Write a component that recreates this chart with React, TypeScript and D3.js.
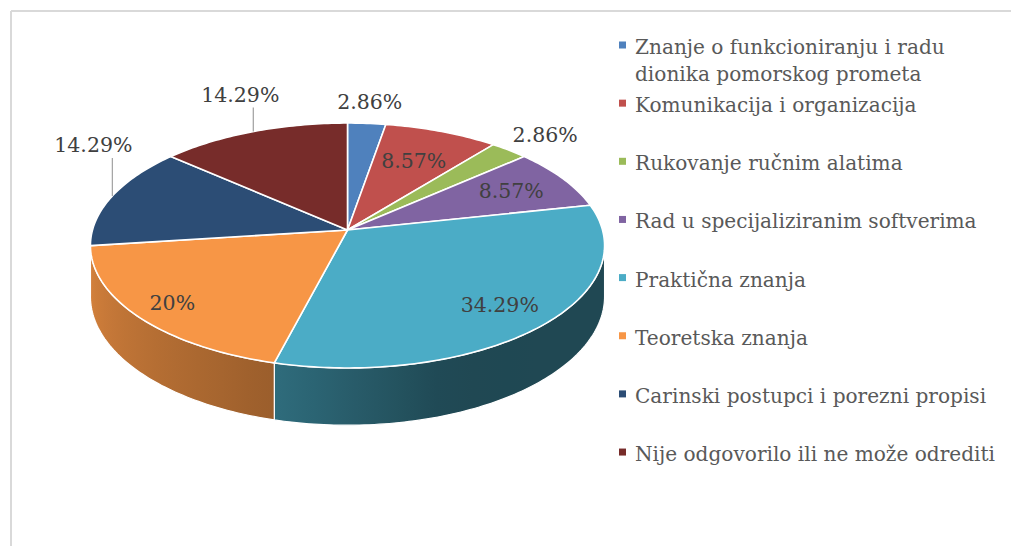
import React from "react";
import * as d3 from "d3";

const categories = [
  "Znanje o funkcioniranju i radu\ndionika pomorskog prometa",
  "Komunikacija i organizacija",
  "Rukovanje ručnim alatima",
  "Rad u specijaliziranim softverima",
  "Praktična znanja",
  "Teoretska znanja",
  "Carinski postupci i porezni propisi",
  "Nije odgovorilo ili ne može odrediti",
];
const values = [2.86, 8.57, 2.86, 8.57, 34.29, 20, 14.29, 14.29];
const colors = ["#4f81bd", "#c0504d", "#9bbb59", "#8064a2", "#4bacc6", "#f79646", "#2c4d75", "#772c2a"];

// label placement: inside radius, or an offset from the rim for outside labels
const labelPos = [
  { out: true, dx: 3, dy: -21 },
  { r: 0.68 },
  { out: true, dx: 36, dy: -15 },
  { r: 0.75 },
  { r: 0.8 },
  { r: 0.85 },
  { out: true, dx: -19, dy: -51, leader: 38 },
  { out: true, dx: -13, dy: -37, leader: 24 },
];

const W = 1011;
const H = 546;
const CX = 347.5;
const CY = 230;
const RX = 255;
const RY = 120.5;
const K = 0.1266; // perspective
const DEPTH = 50;
const FONT = "'DejaVu Serif', serif";

const project = (t: number, r = 1, drop = 0): [number, number] => {
  const s = 1 / (1 + K * r * Math.cos(t));
  return [CX + RX * r * Math.sin(t) * s, CY - RY * r * Math.cos(t) * s + drop * s];
};

const arcPoints = (a0: number, a1: number, r = 1, drop = 0) => {
  const n = Math.max(2, Math.ceil(((a1 - a0) * 180) / Math.PI));
  return d3.range(n + 1).map((i) => project(a0 + ((a1 - a0) * i) / n, r, drop));
};

const shade = d3.scaleLinear().domain([97, 160, 195, 230, 263]).range([0.42, 0.42, 0.63, 0.76, 0.87]).clamp(true);

const tR = Math.acos(-K);
const tL = 2 * Math.PI - tR;

export default function App() {
  const arcs = d3.pie<number>().sort(null).value((d) => d)(values);
  const line = d3.line();

  const sides = arcs
    .map((a, i) => {
      const t0 = Math.max(a.startAngle, tR);
      const t1 = Math.min(a.endAngle, tL);
      if (t1 <= t0) return null;
      const top = arcPoints(t0, t1);
      const bottom = arcPoints(t0, t1, 1, DEPTH).reverse();
      const xs = top.map((p) => p[0]);
      const x0 = d3.min(xs)!;
      const x1 = d3.max(xs)!;
      const base = d3.rgb(colors[i]);
      const stops = d3
        .range(13)
        .map((k) => {
          const t = t0 + ((t1 - t0) * k) / 12;
          const f = shade((t * 180) / Math.PI);
          return {
            off: (project(t)[0] - x0) / (x1 - x0),
            col: d3.rgb(base.r * f, base.g * f, base.b * f).formatHex(),
          };
        })
        .sort((p, q) => p.off - q.off);
      return { i, d: line([...top, ...bottom])! + "Z", x0, x1, stops };
    })
    .filter(Boolean) as { i: number; d: string; x0: number; x1: number; stops: { off: number; col: string }[] }[];

  const apex = project(0, 0);

  return (
    <svg width={W} height={H} style={{ position: "absolute", left: 0, top: 0 }} fontFamily={FONT}>
      <defs>
        {sides.map((s) => (
          <linearGradient key={s.i} id={`side${s.i}`} gradientUnits="userSpaceOnUse" x1={s.x0} x2={s.x1} y1={0} y2={0}>
            {s.stops.map((st, k) => (
              <stop key={k} offset={st.off} stopColor={st.col} />
            ))}
          </linearGradient>
        ))}
      </defs>
      <rect width={W} height={H} fill="#fff" />
      <line x1={11} y1={11} x2={W} y2={11} stroke="#d9d9d9" strokeWidth={2} />
      <line x1={11} y1={11} x2={11} y2={H} stroke="#d9d9d9" strokeWidth={2} />

      {sides.map((s) => (
        <path key={s.i} d={s.d} fill={`url(#side${s.i})`} stroke="#fff" strokeWidth={1.2} strokeLinejoin="round" />
      ))}

      {arcs.map((a, i) => (
        <path
          key={i}
          d={line([apex, ...arcPoints(a.startAngle, a.endAngle)])! + "Z"}
          fill={colors[i]}
          stroke="#fff"
          strokeWidth={1.6}
          strokeLinejoin="round"
        />
      ))}

      {arcs.map((a, i) => {
        const mid = (a.startAngle + a.endAngle) / 2;
        const lp = labelPos[i] as any;
        const txt = `${values[i]}%`;
        if (lp.out) {
          const [rx, ry] = project(mid);
          return (
            <g key={i}>
              {lp.leader && <line x1={rx} y1={ry} x2={rx} y2={ry - lp.leader} stroke="#a6a6a6" strokeWidth={1.3} />}
              <text x={rx + lp.dx} y={ry + lp.dy} textAnchor="middle" dominantBaseline="central" fontSize={20.5} fill="#404040">
                {txt}
              </text>
            </g>
          );
        }
        const [x, y] = project(mid, lp.r);
        return (
          <text key={i} x={x} y={y} textAnchor="middle" dominantBaseline="central" fontSize={20.5} fill="#404040">
            {txt}
          </text>
        );
      })}

      <g>
        {categories.map((c, i) => {
          const y = 54 + 58.15 * i;
          return (
            <g key={i}>
              <rect x={619} y={y - 12.5} width={7} height={7} fill={colors[i]} />
              {c.split("\n").map((ln, j) => (
                <text key={j} x={635} y={y + j * 27} fontSize={20.1} fill="#595959">
                  {ln}
                </text>
              ))}
            </g>
          );
        })}
      </g>
    </svg>
  );
}
